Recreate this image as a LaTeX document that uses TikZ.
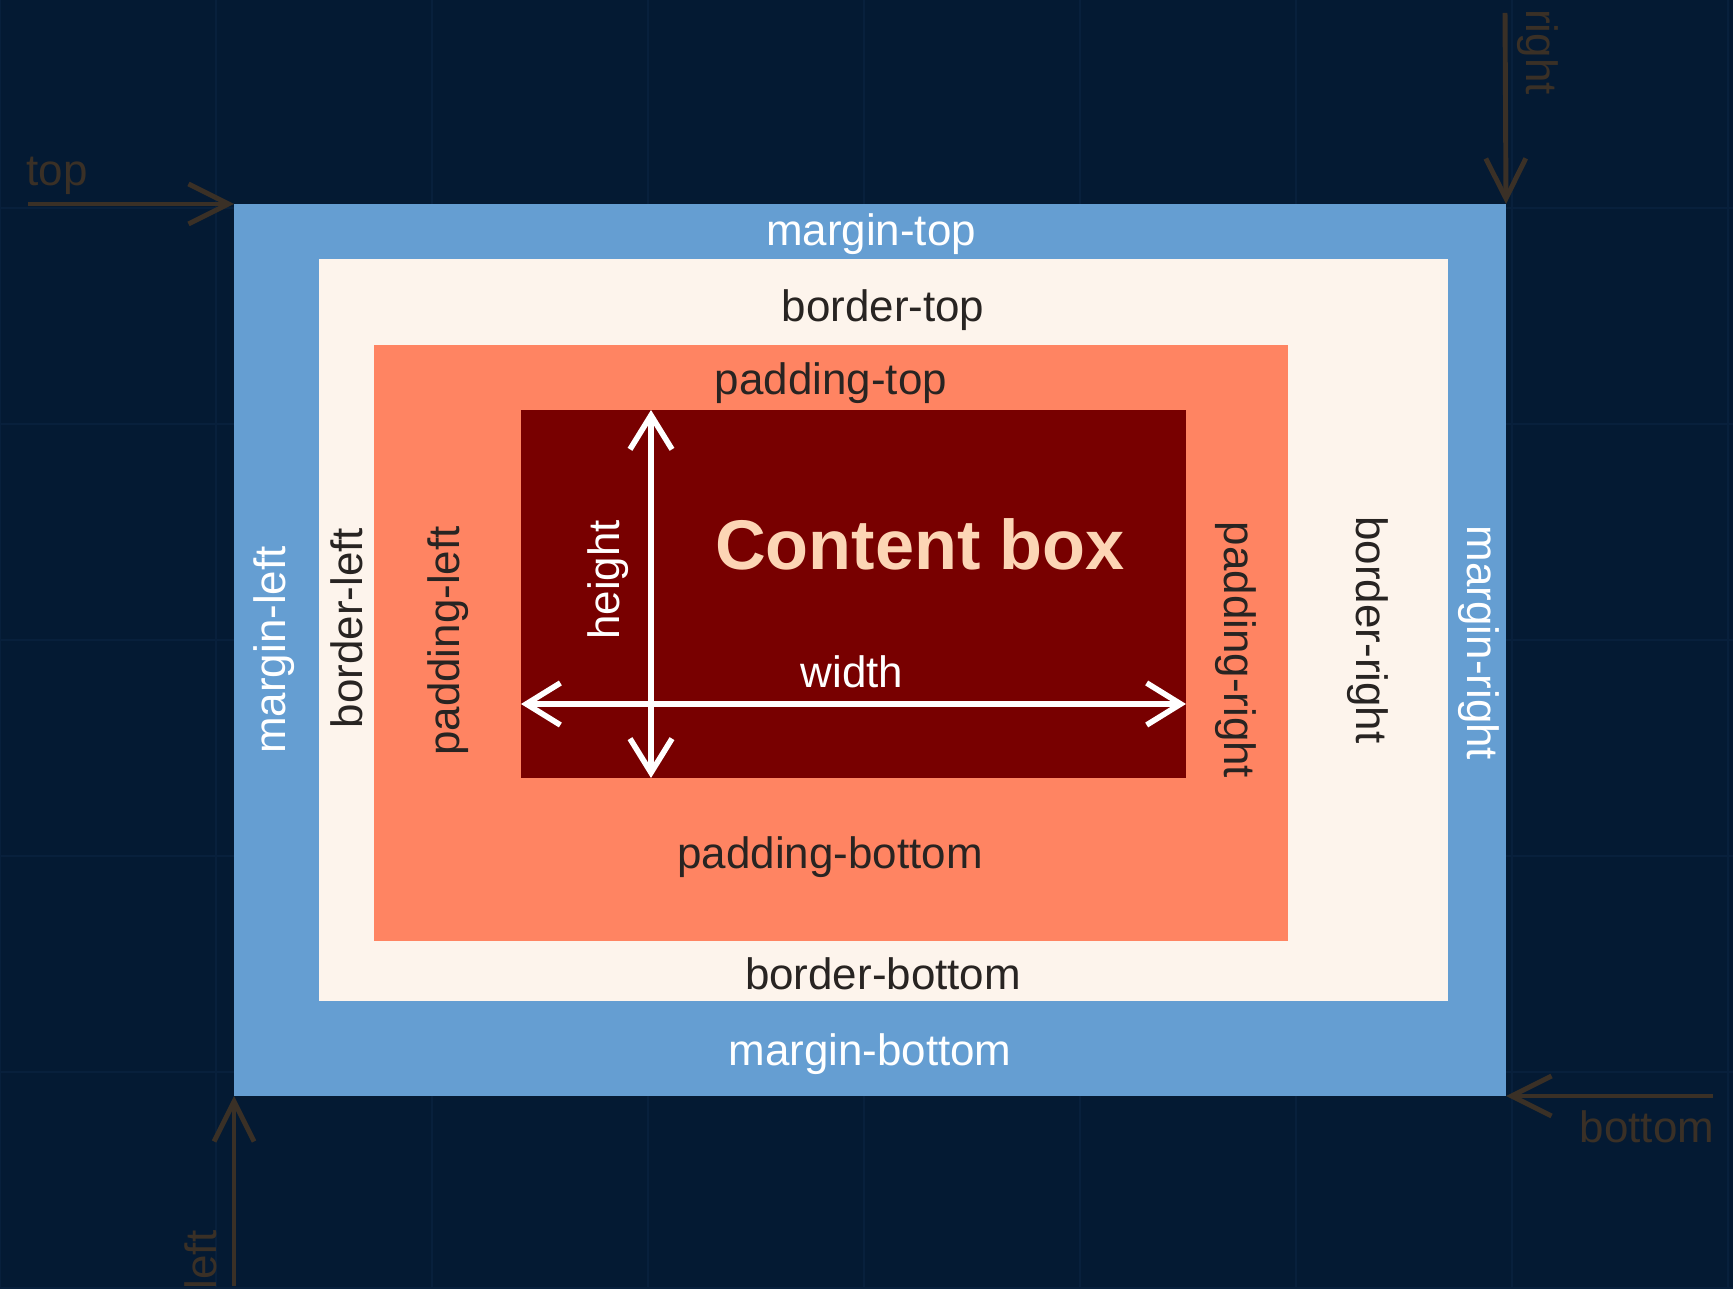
\documentclass[tikz,border=0pt]{standalone}
\usepackage{fontspec}
\setmainfont{Liberation Sans}
\usetikzlibrary{arrows.meta}
\definecolor{navy}{RGB}{4,26,51}
\definecolor{navygrid}{RGB}{8,32,60}
\definecolor{marginblue}{RGB}{101,158,210}
\definecolor{bordercream}{RGB}{253,244,236}
\definecolor{paddingsalmon}{RGB}{255,132,98}
\definecolor{contentred}{RGB}{120,0,0}
\definecolor{contenttext}{RGB}{252,213,181}
\definecolor{labeldark}{RGB}{40,36,34}
\definecolor{cornerbrown}{RGB}{58,48,38}

\begin{document}
\begin{tikzpicture}[
		boxlabel/.style={font=\fontsize{12.5}{14}\selectfont, inner sep=0pt},
		marginlabel/.style={boxlabel, text=white},
		innerlabel/.style={boxlabel, text=labeldark},
		cornerlabel/.style={boxlabel, text=cornerbrown},
		sizearrow/.style={draw=white, line width=1.6pt,
			{Straight Barb[length=3.4mm,width=4.2mm]}-{Straight Barb[length=3.4mm,width=4.2mm]}},
		cornerarrow/.style={draw=cornerbrown, line width=1.4pt,
			-{Straight Barb[length=4mm,width=4mm]}}
	]
		% Background of the whole picture
		\fill[navy] (0,0) rectangle (17.33,12.88);
		\useasboundingbox (0,0) rectangle (17.33,12.88);
		\draw[navygrid, line width=0.6pt, step=2.16] (0,0) grid (17.33,12.88);
		% The four nested boxes, from the outside in
		\fill[marginblue] (2.34,1.92) coordinate (Margin LL)
			rectangle (15.06,10.84) coordinate (Margin UR);
		\fill[bordercream] (3.19,2.87) rectangle (14.48,10.29);
		\fill[paddingsalmon] (3.74,3.47) rectangle (12.88,9.43);
		\fill[contentred] (5.21,5.10) coordinate (Content LL)
			rectangle (11.86,8.78) coordinate (Content UR);
		% Other two corners of the margin box
		\coordinate (Margin UL) at (Margin LL |- Margin UR);
		\coordinate (Margin LR) at (Margin UR |- Margin LL);

		% Labels of the margin
		\node[marginlabel] (margin top) at (8.71,10.54) {margin-top};
		\node[marginlabel] (margin bottom) at (8.70,2.34) {margin-bottom};
		\node[marginlabel, rotate=90] (margin left) at (2.74,6.38) {margin-left};
		\node[marginlabel, rotate=-90] (margin right) at (14.79,6.45) {margin-right};
		% Labels of the border
		\node[innerlabel] (border top) at (8.83,9.78) {border-top};
		\node[innerlabel] (border bottom) at (8.83,3.14) {border-bottom};
		\node[innerlabel, rotate=90] (border left) at (3.47,6.60) {border-left};
		\node[innerlabel, rotate=-90] (border right) at (13.68,6.58) {border-right};
		% Labels of the padding
		\node[innerlabel] (padding top) at (8.31,9.05) {padding-top};
		\node[innerlabel] (padding bottom) at (8.30,4.31) {padding-bottom};
		\node[innerlabel, rotate=90] (padding left) at (4.48,6.47) {padding-left};
		\node[innerlabel, rotate=-90] (padding right) at (12.36,6.38) {padding-right};

		% The content box with its width and height
		\node[inner sep=0pt, text=contenttext, font=\fontsize{20}{24}\bfseries]
			(content) at (9.20,7.44) {Content box};
		\coordinate (Width Left) at (Content LL |- 0,5.84);
		\coordinate (Width Right) at (Content UR |- 0,5.84);
		\coordinate (Height Top) at (6.51,0 |- Content UR);
		\coordinate (Height Bottom) at (6.51,0 |- Content LL);
		\draw[sizearrow] (Width Left) -- (Width Right);
		\draw[sizearrow] (Height Top) -- (Height Bottom);
		\node[marginlabel] (width) at (8.52,6.16) {width};
		\node[marginlabel, rotate=90] (height) at (6.08,7.08) {height};

		% Arrows pointing at the corners of the margin box
		\coordinate (Top Start) at (0.28,10.84);
		\coordinate (Right Start) at (15.05,12.75);
		\coordinate (Bottom Start) at (17.13,1.92);
		\coordinate (Left Start) at (2.34,0.02);
		\draw[cornerarrow] (Top Start) -- (Margin UL);
		\draw[cornerarrow] (Right Start) -- (Margin UR);
		\draw[cornerarrow] (Bottom Start) -- (Margin LR);
		\draw[cornerarrow] (Left Start) -- (Margin LL);
		\node[cornerlabel] (top) at (0.57,11.12) {top};
		\node[cornerlabel, rotate=-90] (right) at (15.38,12.36) {right};
		\node[cornerlabel] (bottom) at (16.47,1.61) {bottom};
		\node[cornerlabel, rotate=90] (left) at (2.01,0.28) {left};
	\end{tikzpicture}
\end{document}
